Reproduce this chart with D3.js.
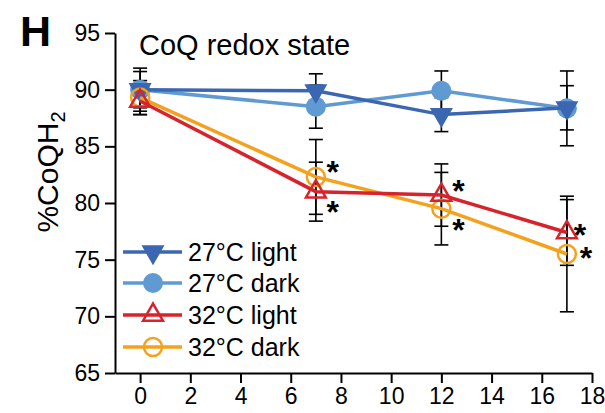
<!DOCTYPE html>
<html>
<head>
<meta charset="utf-8">
<script src="https://cdn.jsdelivr.net/npm/d3@7"></script>
<style>
  body { margin: 0; background: #fff; }
  text { font-family: "Liberation Sans", Arial, sans-serif; fill: #000; }
</style>
</head>
<body>
<script>
// data (days vs %CoQH2, mean +/- error)
const days = [0, 7, 12, 17]

const names = ['27°C light', '27°C dark', '32°C light', '32°C dark']
const light27 = [90.0, 89.9, 87.8, 88.4]
const light27Err = [1.6, 1.5, 1.5, 1.95]
const dark27 = [90.0, 88.5, 89.9, 88.35]
const dark27Err = [1.9, 1.9, 1.75, 3.3]
const light32 = [89.0, 81.0, 80.7, 77.4]
const light32Err = [1.2, 2.6, 2.75, 2.9]
const dark32 = [89.3, 82.3, 79.5, 75.5]
const dark32Err = [1.5, 3.3, 3.2, 5.1]

// significance stars: [series index, day index]
const stars = [[3, 1], [2, 1], [2, 2], [3, 2], [2, 3], [3, 3]]

const xTicks = [0, 2, 4, 6, 8, 10, 12, 14, 16, 18]
const yTicks = [65, 70, 75, 80, 85, 90, 95]

const colors = ['#3b66b1', '#5f9ad3', '#d7232b', '#f4a11e']

const series = [
    { name: names[0], values: light27, err: light27Err, color: colors[0], shape: 'tri-down', filled: true },
    { name: names[1], values: dark27, err: dark27Err, color: colors[1], shape: 'circle', filled: true },
    { name: names[2], values: light32, err: light32Err, color: colors[2], shape: 'tri-up', filled: false },
    { name: names[3], values: dark32, err: dark32Err, color: colors[3], shape: 'circle', filled: false }
]

const width = 605, height = 413

const svg = d3.select('body').append('svg')
    .attr('width', width)
    .attr('height', height)

const x = d3.scaleLinear().domain([-1, 18]).range([115, 592])
const y = d3.scaleLinear().domain([65, 95]).range([373, 33])

// axes
const yAxis = svg.append('g')
    .attr('transform', 'translate(115,0)')
    .call(d3.axisLeft(y).tickValues(yTicks).tickSize(10).tickPadding(5).tickSizeOuter(0))
yAxis.selectAll('text').style('font-size', '23px')

const xAxis = svg.append('g')
    .attr('transform', 'translate(0,373)')
    .call(d3.axisBottom(x).tickValues(xTicks).tickSize(10).tickPadding(5).tickSizeOuter(0))
xAxis.selectAll('text').style('font-size', '23px')

svg.selectAll('.domain, .tick line').attr('stroke', '#000').attr('stroke-width', 2)

function markerPath(shape) {
    return d3.symbol().type(d3.symbolTriangle).size(shape === 'tri-down' ? 230 : 170)()
}

function drawMarker(g, s, cx, cy) {
    if (s.shape === 'circle') {
        g.append('circle')
            .attr('cx', cx).attr('cy', cy)
            .attr('r', s.filled ? 10 : 9)
            .attr('fill', s.filled ? s.color : 'none')
            .attr('stroke', s.color)
            .attr('stroke-width', s.filled ? 0 : 2.5)
    } else {
        g.append('path')
            .attr('d', markerPath(s.shape))
            .attr('transform', 'translate(' + cx + ',' + cy + ')' + (s.shape === 'tri-down' ? ' rotate(180)' : ''))
            .attr('fill', s.filled ? s.color : 'none')
            .attr('stroke', s.color)
            .attr('stroke-width', s.filled ? 0 : 2.5)
    }
}

// error bars
const errG = svg.append('g')
series.forEach(function(s) {
    for (let i = 0; i < days.length; i++) {
        const cx = x(days[i])
        const top = y(s.values[i] + s.err[i])
        const bot = y(s.values[i] - s.err[i])
        errG.append('line').attr('x1', cx).attr('x2', cx).attr('y1', top).attr('y2', bot)
            .attr('stroke', '#000').attr('stroke-width', 1.6)
        errG.append('line').attr('x1', cx - 7).attr('x2', cx + 7).attr('y1', top).attr('y2', top)
            .attr('stroke', '#000').attr('stroke-width', 1.6)
        errG.append('line').attr('x1', cx - 7).attr('x2', cx + 7).attr('y1', bot).attr('y2', bot)
            .attr('stroke', '#000').attr('stroke-width', 1.6)
    }
})

// lines + markers
const line = d3.line()
    .x(function(d, i) { return x(days[i]) })
    .y(function(d) { return y(d) })

const drawOrder = [1, 0, 3, 2]
drawOrder.forEach(function(k) {
    const s = series[k]
    const g = svg.append('g')
    g.append('path').datum(s.values)
        .attr('d', line)
        .attr('fill', 'none')
        .attr('stroke', s.color)
        .attr('stroke-width', 3.5)
    for (let i = 0; i < days.length; i++) {
        drawMarker(g, s, x(days[i]), y(s.values[i]))
    }
})

// stars, placed next to their point (offset of the star's centre)
const starFont = 32
stars.forEach(function(st) {
    const k = st[0], i = st[1]
    let dx = 17, dy
    if (i === 1) dy = k === 3 ? -12 : 13
    if (i === 2) dy = k === 2 ? -11 : 14
    if (i === 3) { dy = k === 2 ? -4 : -3; dx = k === 2 ? 13 : 19 }
    svg.append('text')
        .attr('x', x(days[i]) + dx)
        .attr('y', y(series[k].values[i]) + dy + starFont * 0.56)
        .attr('text-anchor', 'middle')
        .style('font-size', starFont + 'px')
        .style('font-weight', 'bold')
        .text('*')
})

// title and panel letter
svg.append('text').attr('x', 139).attr('y', 55)
    .style('font-size', '29px').text('CoQ redox state')

svg.append('text').attr('x', 20).attr('y', 46)
    .style('font-size', '43px').style('font-weight', 'bold').text('H')

// y label
const yLab = svg.append('text')
    .attr('transform', 'translate(58,172) rotate(-90)')
    .attr('text-anchor', 'middle')
    .style('font-size', '30px')
yLab.append('tspan').text('%CoQH')
yLab.append('tspan').attr('dy', 7).style('font-size', '20px').text('2')

// legend
const legend = svg.append('g')
const legendY = [252, 283, 315, 347]
series.forEach(function(s, i) {
    const ly = legendY[i]
    legend.append('line').attr('x1', 123).attr('x2', 182).attr('y1', ly).attr('y2', ly)
        .attr('stroke', s.color).attr('stroke-width', 3.5)
    drawMarker(legend, s, 153, ly)
    legend.append('text').attr('x', 188).attr('y', ly + 9)
        .style('font-size', '25px').text(s.name)
})
</script>
</body>
</html>
